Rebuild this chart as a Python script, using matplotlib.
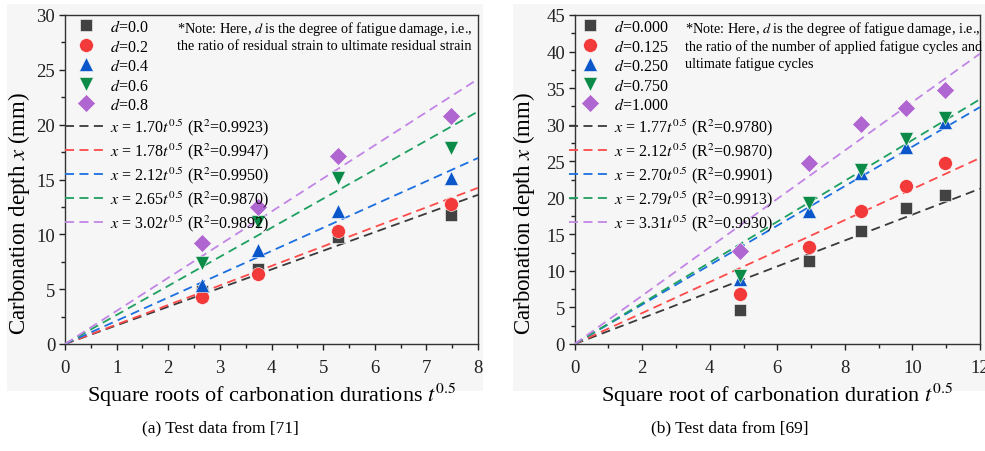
import numpy as np
import matplotlib
matplotlib.use("Agg")
import matplotlib.pyplot as plt
from matplotlib.patches import Rectangle

plt.rcParams["font.family"] = ["Liberation Serif", "DejaVu Serif"]
plt.rcParams["mathtext.fontset"] = "stix"

# ---- (a) data: depth vs sqrt(t) ----
t_a = [2.65, 3.74, 5.29, 7.48]
labels_a = ["0.0", "0.2", "0.4", "0.6", "0.8"]
depth_a = [
    [4.8, 6.8, 9.8, 11.8],
    [4.3, 6.4, 10.3, 12.8],
    [5.4, 8.6, 12.1, 15.1],
    [7.4, 11.1, 15.1, 17.9],
    [9.2, 12.5, 17.1, 20.8],
]
k_a = [1.70, 1.78, 2.12, 2.65, 3.02]
r2_a = ["0.9923", "0.9947", "0.9950", "0.9870", "0.9892"]

# ---- (b) data ----
t_b = [4.90, 6.93, 8.49, 9.80, 10.95]
labels_b = ["0.000", "0.125", "0.250", "0.750", "1.000"]
depth_b = [
    [4.6, 11.3, 15.4, 18.6, 20.4],
    [6.9, 13.2, 18.2, 21.6, 24.7],
    [8.9, 18.2, 23.4, 27.0, 30.4],
    [9.3, 19.3, 23.8, 28.1, 30.9],
    [12.7, 24.8, 30.1, 32.3, 34.7],
]
k_b = [1.77, 2.12, 2.70, 2.79, 3.31]
r2_b = ["0.9780", "0.9870", "0.9901", "0.9913", "0.9930"]

markers = ["s", "o", "^", "v", "D"]
msizes = [8, 10, 10, 10, 9]
mcolors = ["#424242", "#f23a3a", "#0b56c8", "#0b8a48", "#b066d0"]
lcolors = ["#3a3a3a", "#ff4a4a", "#1c6fe0", "#1ea060", "#c285e6"]

fig = plt.figure(figsize=(9.85, 4.52), dpi=100)

# light panel backgrounds
for x0, w in [(7 / 985, 476 / 985), (513 / 985, 472 / 985)]:
    fig.patches.append(Rectangle((x0, 60 / 452), w, 387 / 452, transform=fig.transFigure,
                                 facecolor="#f6f6f6", edgecolor="none", zorder=-10))

axA = fig.add_axes([65 / 985, 107 / 452, 413 / 985, 329 / 452])
axB = fig.add_axes([574.7 / 985, 107 / 452, 405.3 / 985, 329 / 452])


def draw(ax, t, depth, labels, ks, r2s, xmax, ymax, xmaj, xmin_, ymaj, ymin_, note, xlabel,
         ylab_x, leg_x):
    ax.set_facecolor("none")
    handles = []
    for i in range(5):
        h, = ax.plot(t, depth[i], linestyle="none", marker=markers[i], ms=msizes[i],
                     color=mcolors[i], mec="white", mew=0.4, zorder=5,
                     label=f"$d$=" + labels[i])
        handles.append(h)
    xs = np.array([0, xmax])
    for i in range(5):
        h, = ax.plot(xs, ks[i] * xs, linestyle=(0, (5, 3)), lw=1.3, color=lcolors[i],
                     zorder=3,
                     label=f"$x$ = {ks[i]:.2f}$t^{{0.5}}$ (R$^2$={r2s[i]})")
        handles.append(h)
    ax.set_xlim(0, xmax)
    ax.set_ylim(0, ymax)
    ax.set_xticks(np.arange(0, xmax + 0.01, xmaj))
    ax.set_xticks(np.arange(0, xmax + 0.01, xmin_), minor=True)
    ax.set_yticks(np.arange(0, ymax + 0.01, ymaj))
    ax.set_yticks(np.arange(0, ymax + 0.01, ymin_), minor=True)
    ax.tick_params(which="major", direction="out", length=4, width=1, labelsize=13.5,
                   colors="#222222")
    ax.tick_params(axis="x", which="major", pad=7)
    ax.tick_params(axis="y", which="major", pad=3)
    ax.tick_params(which="minor", direction="out", length=3, width=1, colors="#222222")
    for s in ax.spines.values():
        s.set_color("#333333")
        s.set_linewidth(1.0)
    ax.set_xlabel(xlabel, fontsize=16, labelpad=3)
    ax.set_ylabel("Carbonation depth $x$ (mm)", fontsize=16.5)
    ax.yaxis.set_label_coords(ylab_x, 0.40)
    ax.legend(handles=handles, loc="upper left", bbox_to_anchor=(leg_x, 1.0),
              frameon=False, fontsize=11.5,
              handlelength=2.6, handletextpad=0.2, labelspacing=0.22,
              borderaxespad=0.0, borderpad=0.25)
    ax.text(0.272, 0.988, note, transform=ax.transAxes, ha="left", va="top",
            fontsize=10.3, linespacing=1.25)


draw(axA, t_a, depth_a, labels_a, k_a, r2_a, 8, 30, 1, 0.5, 5, 2.5,
     "*Note: Here, $d$ is the degree of fatigue damage, i.e.,\n"
     "the ratio of residual strain to ultimate residual strain",
     "Square roots of carbonation durations $t^{0.5}$", -0.08, -0.01)
draw(axB, t_b, depth_b, labels_b, k_b, r2_b, 12, 45, 2, 1, 5, 2.5,
     "*Note: Here, $d$ is the degree of fatigue damage, i.e.,\n"
     "the ratio of the number of applied fatigue cycles and\n"
     "ultimate fatigue cycles",
     "Square root of carbonation duration $t^{0.5}$", -0.093, -0.024)

fig.text(220 / 985, 1 - 428 / 452, "(a) Test data from [71]", ha="center", va="center",
         fontsize=12.5)
fig.text(730 / 985, 1 - 428 / 452, "(b) Test data from [69]", ha="center", va="center",
         fontsize=12.5)

fig.savefig("out.png", dpi=100, facecolor="white")
